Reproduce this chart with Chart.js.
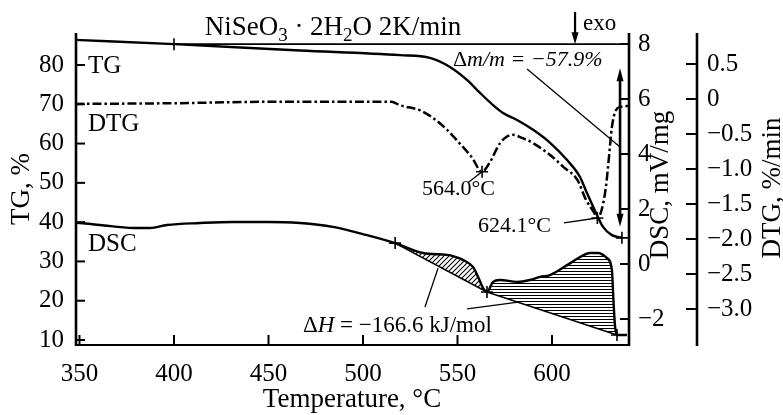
<!DOCTYPE html>
<html><head><meta charset="utf-8">
<script src="https://cdn.jsdelivr.net/npm/chart.js@4.4.1/dist/chart.umd.min.js"></script>
<style>html,body{margin:0;padding:0;background:#fff}canvas{display:block}</style>
</head><body>
<canvas id="c" width="783" height="415"></canvas>
<script>
// ---- tick labels ----
const tempTicks = [350, 400, 450, 500, 550, 600];
const tgTicks = [10, 20, 30, 40, 50, 60, 70, 80];
const dscTicks = [-2, 0, 2, 4, 6, 8];
const dtgTicks = [0.5, 0, -0.5, -1.0, -1.5, -2.0, -2.5, -3.0];

// ---- TG curve (%), temperature in °C ----
const tgT = [347.6, 400, 466.7, 519.6, 535.4, 546, 555, 561.9, 568.8, 574.1, 581.5, 590, 599, 608, 614.8, 618.5, 623.8, 627, 631.7, 637];
const tgV = [86.4, 85.3, 83.7, 82.5, 81.8, 79.5, 76.2, 72.9, 69.8, 67.8, 66.0, 63.5, 60.2, 55.8, 51.5, 47.4, 41.8, 38.8, 36.7, 36.0];

// ---- DTG curve (%/min) ----
const dtgT = [347.6, 400, 450, 500, 515, 519.6, 530, 537, 544.5, 551, 557.5, 563, 567, 572.5, 576, 579, 584.5, 590, 599, 606, 613.5, 618, 622, 624, 626.5, 628.5, 630, 631.7, 633.8, 636.5, 640.7];
const dtgV = [-0.07, -0.06, -0.04, -0.04, -0.04, -0.09, -0.16, -0.27, -0.44, -0.63, -0.83, -1.04, -0.91, -0.63, -0.54, -0.51, -0.56, -0.63, -0.80, -0.97, -1.16, -1.44, -1.61, -1.70, -1.56, -1.26, -0.87, -0.40, -0.16, -0.11, -0.10];

// ---- DSC curve (mV/mg) ----
const dscT = [347.6, 350.3, 360.8, 378.3, 387.3, 396.3, 413.8, 431.2, 449.2, 466.7, 484.1, 502.1, 517, 531.8, 544.5, 548, 552.9, 558.2, 560.9, 563.5, 565.6, 568.8, 572.5, 581.5, 588.4, 593.7, 599, 608, 614.8, 620, 624.3, 629, 631.7, 632.5, 633.3, 634.4, 639.7];
const dscV = [1.5, 1.49, 1.42, 1.31, 1.31, 1.42, 1.49, 1.53, 1.53, 1.49, 1.35, 1.05, 0.76, 0.40, 0.33, 0.28, 0.15, -0.11, -0.47, -0.87, -1.02, -0.65, -0.58, -0.65, -0.58, -0.47, -0.40, -0.04, 0.25, 0.40, 0.40, 0.22, -0.22, -1.31, -2.22, -2.58, -2.58];

// ---- DSC integration baselines ----
const base1T = [517, 565.6];
const base1V = [0.76, -1.02];
const base2T = [565.6, 634.4];
const base2V = [-1.02, -2.58];

// ---- TG initial level line ----
const tgRefT = [400, 640.7];
const tgRefV = [85.3, 85.3];

// ---- "+" markers ----
const tgMarkT = [400, 637];
const tgMarkV = [85.3, 36.0];
const dtgMarkT = [563, 624];
const dtgMarkV = [-1.04, -1.70];
const dscMarkT = [517, 565.6, 634.4];
const dscMarkV = [0.76, -1.02, -2.58];

const pts = (xs, ys) => xs.map((x, i) => ({x: x, y: ys[i]}));
const between = (xs, ys, a, b) => pts(xs, ys).filter(p => p.x >= a && p.x <= b);

const SERIF = '"Liberation Serif", "Times New Roman", serif';

const ctx0 = document.getElementById('c').getContext('2d');
function makePattern(type) {
  const c = document.createElement('canvas');
  const g = c.getContext('2d');
  g.strokeStyle = '#000'; g.fillStyle = '#000';
  if (type === 'diag') {
    c.width = 5; c.height = 5;
    g.lineWidth = 1.1;
    g.beginPath();
    g.moveTo(0, 5); g.lineTo(5, 0);
    g.moveTo(-1, 1); g.lineTo(1, -1);
    g.moveTo(4, 6); g.lineTo(6, 4);
    g.stroke();
  } else {
    c.width = 4; c.height = 3;
    g.fillRect(0, 1, 4, 1);
  }
  return ctx0.createPattern(c, 'repeat');
}

function fixTicks(list) {
  return function (scale) { scale.ticks = list.map(v => ({value: v})); };
}
const minus = s => s.replace('-', '\u2212');

const annot = {
  tgLabel: {x: 354.5, y: 78.0},
  dtgLabel: {x: 354.5, y: 63.2},
  dscLabel: {x: 354.5, y: 32.7},
  t564: {x: 531.2, y: 46.9},
  t564Line: {x: 555.5, y: 50.0},
  t624: {x: 560.8, y: 37.5},
  t624Line: {x: 606.3, y: 39.8},
  dm: {x: 547.6, y: 79.7},
  dmLine: [{x: 586.8, y: 79.0}, {x: 636.0, y: 59.1}],
  dmArrow: [{x: 636.0, y: 79.2}, {x: 636.0, y: 38.8}],
  exoArrow: [{x: 612.2, y: 93.5}, {x: 612.2, y: 85.3}],
  exo: {x: 616.4, y: 88.9},
  dH: {x: 468.2, y: 12.0},
  dHLine1: [{x: 532.8, y: 18.4}, {x: 539.7, y: 28.3}],
  dHLine2: [{x: 555.1, y: 17.9}, {x: 583.1, y: 19.7}]
};

function richWidth(ctx, parts) {
  let w = 0;
  for (const p of parts) { ctx.font = p.f; w += ctx.measureText(p.t).width; }
  return w;
}
function drawRich(ctx, parts, x, y, align) {
  let cx = x;
  if (align === 'center') cx = x - richWidth(ctx, parts) / 2;
  ctx.textAlign = 'left';
  ctx.textBaseline = 'alphabetic';
  for (const p of parts) {
    ctx.font = p.f;
    ctx.fillText(p.t, cx, y + (p.dy || 0));
    cx += ctx.measureText(p.t).width;
  }
}
function arrowHead(ctx, x, y, dir, w, l) {
  ctx.beginPath();
  ctx.moveTo(x, y);
  ctx.lineTo(x - w / 2, y - dir * l);
  ctx.lineTo(x + w / 2, y - dir * l);
  ctx.closePath();
  ctx.fill();
}

const drawPlugin = {
  id: 'drawPlugin',
  afterDraw(chart) {
    const ctx = chart.ctx, a = chart.chartArea;
    const sx = chart.scales.x, sT = chart.scales.yTG, sD = chart.scales.yDSC, sG = chart.scales.yDTG;
    const X = v => sx.getPixelForValue(v), Y = v => sT.getPixelForValue(v);
    const seg = (x1, y1, x2, y2) => { ctx.beginPath(); ctx.moveTo(x1, y1); ctx.lineTo(x2, y2); ctx.stroke(); };
    ctx.save();
    ctx.strokeStyle = '#000'; ctx.fillStyle = '#000';
    // axis lines
    ctx.lineWidth = 2.6;
    seg(a.left + 1, a.top, a.left + 1, a.bottom + 1);
    seg(a.right, a.top, a.right, a.bottom + 1);
    seg(sG.left, a.top, sG.left, a.bottom + 1);
    ctx.lineWidth = 2.2;
    seg(a.left, a.bottom, a.right, a.bottom);
    // ticks (inward)
    ctx.lineWidth = 2;
    tempTicks.forEach(v => seg(X(v), a.bottom, X(v), a.bottom - 10));
    tgTicks.forEach(v => { const p = sT.getPixelForValue(v); seg(a.left, p, a.left + 10, p); });
    dscTicks.forEach(v => { const p = sD.getPixelForValue(v); seg(a.right, p, a.right - 9, p); });
    dtgTicks.forEach(v => { const p = sG.getPixelForValue(v); seg(sG.left, p, sG.left - 11, p); });

    // title
    const F = (s, it) => (it ? 'italic ' : '') + s + 'px ' + SERIF;
    drawRich(ctx, [
      {t: 'NiSeO', f: F(27)}, {t: '3', f: F(19), dy: 6}, {t: ' \u00B7 2H', f: F(27)},
      {t: '2', f: F(19), dy: 6}, {t: 'O 2K/min', f: F(27)}
    ], 333, 35, 'center');

    // axis titles
    ctx.font = F(27);
    ctx.textAlign = 'center'; ctx.textBaseline = 'alphabetic';
    ctx.fillText('Temperature, \u00B0C', (a.left + a.right) / 2, 407);
    const vtext = (t, cx, cy) => {
      ctx.save(); ctx.translate(cx, cy); ctx.rotate(-Math.PI / 2);
      ctx.font = F(27); ctx.textAlign = 'center'; ctx.textBaseline = 'middle';
      ctx.fillText(t, 0, 0); ctx.restore();
    };
    vtext('TG, %', 22, (a.top + a.bottom) / 2);
    vtext('DSC, mV/mg', 661, 185);
    vtext('DTG, %/min', 773, 188);

    // curve labels
    ctx.textAlign = 'left'; ctx.textBaseline = 'alphabetic';
    ctx.font = F(25);
    ctx.fillText('TG', X(annot.tgLabel.x), Y(annot.tgLabel.y));
    ctx.fillText('DTG', X(annot.dtgLabel.x), Y(annot.dtgLabel.y));
    ctx.fillText('DSC', X(annot.dscLabel.x), Y(annot.dscLabel.y));
    ctx.font = F(22);
    ctx.fillText('564.0\u00B0C', X(annot.t564.x), Y(annot.t564.y));
    ctx.fillText('624.1\u00B0C', X(annot.t624.x), Y(annot.t624.y));
    ctx.font = F(23);
    ctx.fillText('exo', X(annot.exo.x), Y(annot.exo.y));
    drawRich(ctx, [{t: '\u0394', f: F(22)}, {t: 'm/m = \u221257.9%', f: F(22, true)}], X(annot.dm.x), Y(annot.dm.y));
    drawRich(ctx, [{t: '\u0394', f: F(23)}, {t: 'H', f: F(23, true)}, {t: ' = \u2212166.6 kJ/mol', f: F(23)}], X(annot.dH.x), Y(annot.dH.y));

    // leader lines
    ctx.lineWidth = 1.3;
    seg(X(annot.t564Line.x), Y(annot.t564Line.y), X(dtgMarkT[0]), sG.getPixelForValue(dtgMarkV[0]));
    seg(X(annot.t624Line.x), Y(annot.t624Line.y), X(dtgMarkT[1]), sG.getPixelForValue(dtgMarkV[1]));
    seg(X(annot.dmLine[0].x), Y(annot.dmLine[0].y), X(annot.dmLine[1].x), Y(annot.dmLine[1].y));
    seg(X(annot.dHLine1[0].x), Y(annot.dHLine1[0].y), X(annot.dHLine1[1].x), Y(annot.dHLine1[1].y));
    seg(X(annot.dHLine2[0].x), Y(annot.dHLine2[0].y), X(annot.dHLine2[1].x), Y(annot.dHLine2[1].y));

    // arrows
    ctx.lineWidth = 2.6;
    const ax = X(annot.dmArrow[0].x), ay1 = Y(annot.dmArrow[0].y), ay2 = Y(annot.dmArrow[1].y);
    seg(ax, ay1 + 8, ax, ay2 - 8);
    arrowHead(ctx, ax, ay1, -1, 7, 13);
    arrowHead(ctx, ax, ay2, 1, 7, 13);
    ctx.lineWidth = 2.2;
    const ex = X(annot.exoArrow[0].x), ey1 = Y(annot.exoArrow[0].y), ey2 = Y(annot.exoArrow[1].y);
    seg(ex, ey1, ex, ey2 - 8);
    arrowHead(ctx, ex, ey2, 1, 7, 12);
    ctx.restore();
  }
};

const lineDs = (data, axis, extra) => Object.assign({
  data: data, yAxisID: axis, borderColor: '#000', borderWidth: 2.4, pointRadius: 0,
  fill: false, cubicInterpolationMode: 'monotone'
}, extra || {});
const markDs = (data, axis) => ({
  data: data, yAxisID: axis, showLine: false, pointStyle: 'cross', pointRadius: 6,
  pointBorderWidth: 1.6, borderColor: '#000', pointBorderColor: '#000', backgroundColor: '#000'
});

new Chart(ctx0, {
  type: 'line',
  data: {
    datasets: [
      lineDs(pts(tgT, tgV), 'yTG'),
      lineDs(pts(dtgT, dtgV), 'yDTG', {borderDash: [9, 3, 2.5, 3], borderWidth: 2.5}),
      lineDs(pts(dscT, dscV), 'yDSC'),
      lineDs(pts(base1T, base1V), 'yDSC', {borderWidth: 1.6, cubicInterpolationMode: 'default', tension: 0}),
      lineDs(pts(base2T, base2V), 'yDSC', {borderWidth: 1.6, cubicInterpolationMode: 'default', tension: 0}),
      lineDs(between(dscT, dscV, 517, 565.6), 'yDSC', {borderWidth: 0, fill: {target: 3}, backgroundColor: makePattern('diag')}),
      lineDs(between(dscT, dscV, 565.6, 634.4), 'yDSC', {borderWidth: 0, fill: {target: 4}, backgroundColor: makePattern('horiz')}),
      lineDs(pts(tgRefT, tgRefV), 'yTG', {borderWidth: 1.6, cubicInterpolationMode: 'default'}),
      markDs(pts(tgMarkT, tgMarkV), 'yTG'),
      markDs(pts(dtgMarkT, dtgMarkV), 'yDTG'),
      markDs(pts(dscMarkT, dscMarkV), 'yDSC')
    ]
  },
  options: {
    responsive: false, animation: false, devicePixelRatio: 1,
    layout: {padding: {top: 33, left: 0, right: 0, bottom: 0}},
    plugins: {legend: {display: false}, tooltip: {enabled: false}, title: {display: false}},
    elements: {line: {borderCapStyle: 'butt'}},
    scales: {
      x: {
        type: 'linear', position: 'bottom', min: 347.62, max: 640.74,
        grid: {display: false, drawTicks: false}, border: {display: false},
        afterBuildTicks: fixTicks(tempTicks),
        afterFit: s => { s.height = 70; },
        ticks: {color: '#000', padding: 14, autoSkip: false, maxRotation: 0, font: {family: SERIF, size: 25},
          callback: v => String(v)}
      },
      yTG: {
        type: 'linear', position: 'left', min: 8.73, max: 88.14,
        grid: {display: false, drawTicks: false}, border: {display: false},
        afterBuildTicks: fixTicks(tgTicks),
        afterFit: s => { s.width = 75; },
        ticks: {color: '#000', padding: 11, autoSkip: false, font: {family: SERIF, size: 25}, callback: v => String(v)}
      },
      yDSC: {
        type: 'linear', position: 'right', weight: 0, min: -2.945, max: 8.4,
        grid: {display: false, drawTicks: false}, border: {display: false},
        afterBuildTicks: fixTicks(dscTicks),
        afterFit: s => { s.width = 68; },
        ticks: {color: '#000', padding: 9, autoSkip: false, font: {family: SERIF, size: 25}, callback: v => minus(String(v))}
      },
      yDTG: {
        type: 'linear', position: 'right', weight: 1, min: -3.514, max: 0.943,
        grid: {display: false, drawTicks: false}, border: {display: false},
        afterBuildTicks: fixTicks(dtgTicks),
        afterFit: s => { s.width = 86; },
        ticks: {color: '#000', padding: 10, autoSkip: false, font: {family: SERIF, size: 25},
          callback: v => v === 0 ? '0' : minus(v.toFixed(1))}
      }
    }
  },
  plugins: [drawPlugin]
});
</script>
</body></html>
